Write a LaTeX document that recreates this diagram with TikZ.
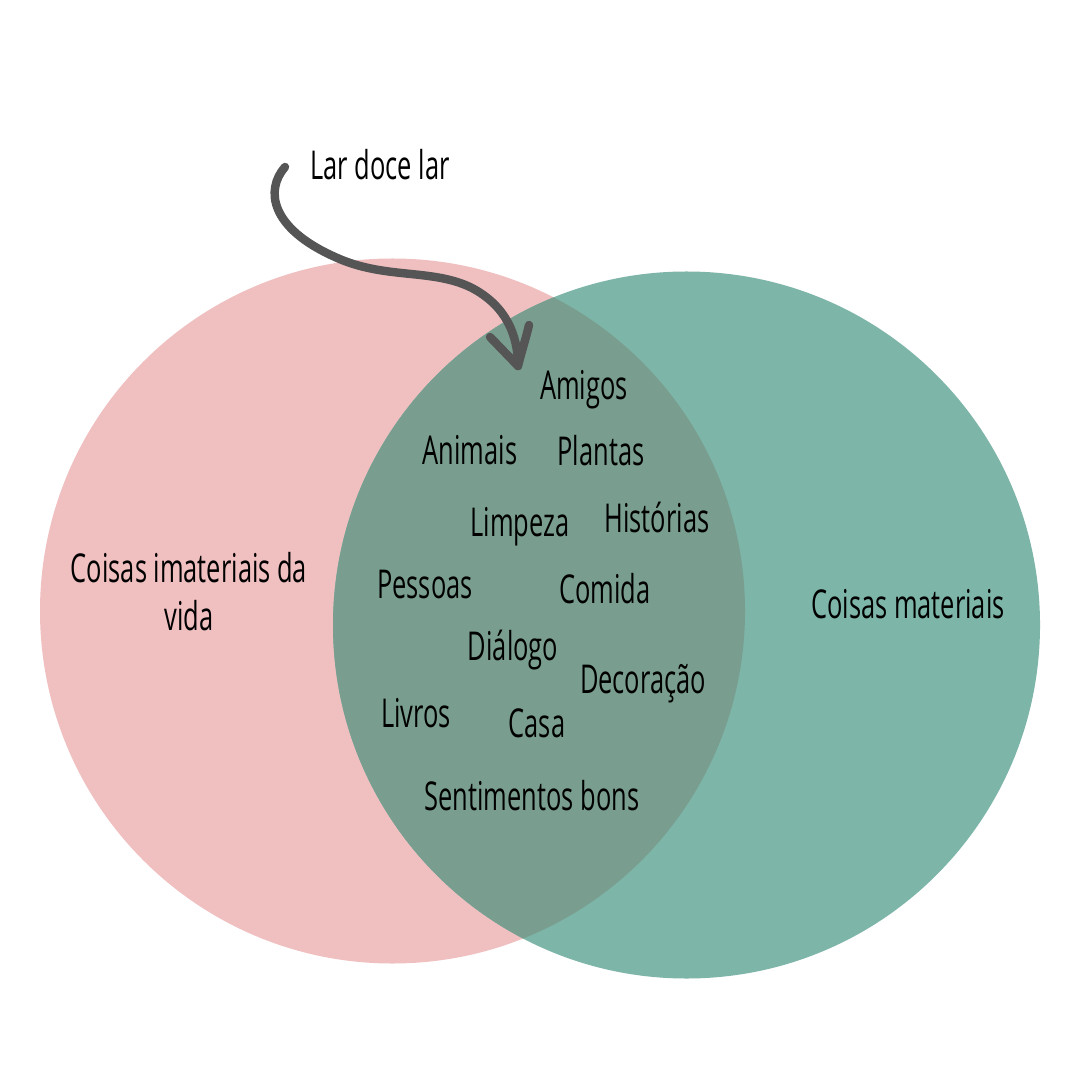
\documentclass[tikz,border=0pt]{standalone}
\usepackage{fontspec}
\setmainfont[FakeStretch=0.64]{Open Sans}
\definecolor{pinkc}{HTML}{F0C0C1}
\definecolor{greenc}{HTML}{7DB5A8}
\definecolor{overc}{HTML}{799E8F}
\definecolor{arrowc}{HTML}{555555}
\begin{document}
\begin{tikzpicture}[x=0.01cm,y=-0.01cm,
  lbl/.style={anchor=base,font=\fontsize{11.3}{13}\selectfont,text=black,inner sep=0pt},
  arr/.style={draw=arrowc,line width=2.4pt,line cap=round,line join=round}]
\fill[white] (0,0) rectangle (1080,1080);
\useasboundingbox (0,0) rectangle (1080,1080);
\fill[pinkc] (392.5,611) circle (352.5);
\fill[greenc] (686.5,625) circle (353.5);
\begin{scope}
\clip (392.5,611) circle (352.5);
\fill[overc] (686.5,625) circle (353.5);
\end{scope}
% labels
\node[lbl] (lar) at (380,180) {Lar doce lar};
\node[lbl] (amigos) at (584,400) {Amigos};
\node[lbl] (animais) at (470,465) {Animais};
\node[lbl] (plantas) at (601,466) {Plantas};
\node[lbl] (limpeza) at (520,537) {Limpeza};
\node[lbl] (historias) at (657,532) {Histórias};
\node[lbl] (pessoas) at (425,598) {Pessoas};
\node[lbl] (comida) at (605,603) {Comida};
\node[lbl] (dialogo) at (513,660) {Diálogo};
\node[lbl] (decoracao) at (643,693) {Decoração};
\node[lbl] (livros) at (416,727) {Livros};
\node[lbl] (casa) at (537,737) {Casa};
\node[lbl] (sent) at (532,810) {Sentimentos bons};
\node[lbl] (imat1) at (189,582) {Coisas imateriais da};
\node[lbl] (imat2) at (189,630) {vida};
\node[lbl] (mat) at (908,618) {Coisas materiais};
% arrow
\coordinate (as) at (285,167);
\coordinate (tip) at (518,366);
\draw[arr] (as) .. controls (265,190) and (270,228) .. (335,257)
  .. controls (385,280) and (432,268) .. (472,288)
  .. controls (506,306) and (518,335) .. (tip);
\draw[arr] (490,337) -- (tip) .. controls (522,350) and (526,338) .. (529,325);
\end{tikzpicture}
\end{document}
